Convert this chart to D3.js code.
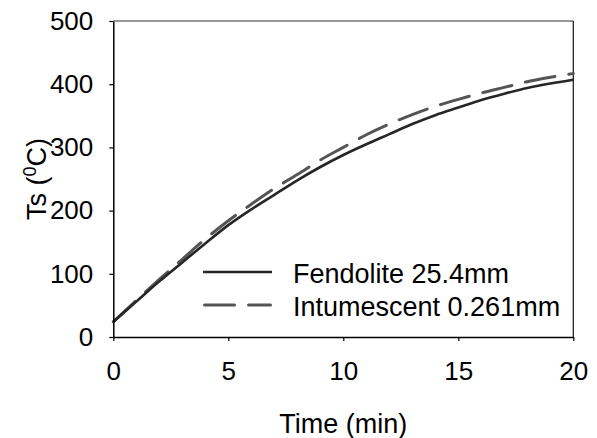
<!DOCTYPE html>
<html>
<head>
<meta charset="utf-8">
<script src="https://cdn.jsdelivr.net/npm/d3@7"></script>
<style>
  html, body { margin: 0; padding: 0; background: #fff; }
  svg { display: block; font-family: "Liberation Sans", Arial, sans-serif; }
</style>
</head>
<body>
<svg id="chart" width="597" height="438"></svg>
<script>
const timeMin = [0,1,2,3,4,5,6,7,8,9,10,11,12,13,14,15,16,17,18,19,20];
const fendolite = [24,56,88,118,148,177,202,225,248,269,288,305,321,337,351,363,375,385,394,401,407];
const intumescent = [24,58,91,123,155,184,210,235,257,280,300,320,337,352,365,376,386,395,404,411,417];
const xTicks = [0,5,10,15,20];
const yTicks = [0,100,200,300,400,500];
const seriesNames = ["Fendolite 25.4mm", "Intumescent 0.261mm"];

const svg = d3.select("#chart");
const pL = 113.3, pR = 573.3, pT = 21, pB = 337;
const x = d3.scaleLinear().domain([0,20]).range([pL, pR]);
const y = d3.scaleLinear().domain([0,500]).range([pB, pT]);

// box (top and right)
svg.append("line").attr("x1", pL).attr("x2", pR).attr("y1", pT).attr("y2", pT)
  .attr("stroke", "#333").attr("stroke-width", 1.2);
svg.append("line").attr("x1", pR).attr("x2", pR).attr("y1", pT).attr("y2", pB)
  .attr("stroke", "#111").attr("stroke-width", 1.2);

const line = d3.line().curve(d3.curveMonotoneX).x((d,i) => x(timeMin[i])).y(d => y(d));

svg.append("path").datum(intumescent).attr("d", line)
  .attr("fill", "none").attr("stroke", "#555").attr("stroke-width", 3)
  .attr("stroke-dasharray", "30,14").attr("stroke-linecap", "round");
svg.append("path").datum(fendolite).attr("d", line)
  .attr("fill", "none").attr("stroke", "#262626").attr("stroke-width", 2.6);

// axes
const xAxis = svg.append("g").attr("transform", `translate(0,${pB})`)
  .call(d3.axisBottom(x).tickValues(xTicks).tickSize(4).tickPadding(21).tickSizeOuter(0));
const yAxis = svg.append("g").attr("transform", `translate(${pL},0)`)
  .call(d3.axisLeft(y).tickValues(yTicks).tickSize(4).tickPadding(16).tickSizeOuter(0));
[xAxis, yAxis].forEach(g => {
  g.select(".domain").attr("stroke", "#000").attr("stroke-width", 1.5);
  g.selectAll(".tick line").attr("stroke", "#000").attr("stroke-width", 1.2);
  g.selectAll(".tick text").attr("fill", "#000").style("font-size", "26px")
    .style("font-family", '"Liberation Sans", Arial, sans-serif');
});

// axis titles
svg.append("text").attr("x", (pL+pR)/2).attr("y", 433).attr("text-anchor", "middle")
  .style("font-size", "27px").attr("fill", "#000").text("Time (min)");
const yt = svg.append("text").attr("transform", `translate(46,${(pT+pB)/2}) rotate(-90)`)
  .attr("text-anchor", "middle").style("font-size", "27px").attr("fill", "#000");
yt.append("tspan").text("Ts (");
yt.append("tspan").attr("baseline-shift", "super").style("font-size", "18px").text("0");
yt.append("tspan").text("C)");

// legend
const lg = svg.append("g");
lg.append("line").attr("x1", 203).attr("x2", 272).attr("y1", 272).attr("y2", 272)
  .attr("stroke", "#262626").attr("stroke-width", 2.6);
lg.append("line").attr("x1", 204.5).attr("x2", 270.5).attr("y1", 305).attr("y2", 305)
  .attr("stroke", "#555").attr("stroke-width", 3).attr("stroke-dasharray", "30,14")
  .attr("stroke-linecap", "round");
lg.append("text").attr("x", 293).attr("y", 282.7).style("font-size", "27px").attr("fill", "#000").text(seriesNames[0]);
lg.append("text").attr("x", 293).attr("y", 316).style("font-size", "27px").attr("fill", "#000").text(seriesNames[1]);
</script>
</body>
</html>
